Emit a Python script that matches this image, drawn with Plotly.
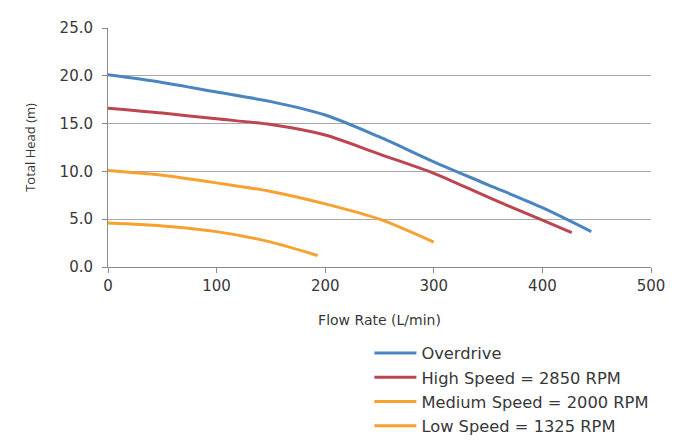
import plotly.graph_objects as go

# Data
overdrive_x = [0, 50, 100, 150, 200, 250, 300, 350, 400, 445]
overdrive_y = [20.1, 19.3, 18.3, 17.3, 15.9, 13.6, 11.0, 8.6, 6.2, 3.7]

high_x = [0, 50, 100, 150, 200, 250, 300, 350, 400, 427]
high_y = [16.6, 16.1, 15.5, 14.9, 13.8, 11.8, 9.8, 7.3, 4.9, 3.6]

medium_x = [0, 50, 100, 150, 200, 250, 300]
medium_y = [10.1, 9.6, 8.8, 7.9, 6.6, 5.0, 2.6]

low_x = [0, 50, 100, 150, 193]
low_y = [4.6, 4.3, 3.7, 2.6, 1.2]

series = [
    ("Overdrive", overdrive_x, overdrive_y, "#4a85c1"),
    ("High Speed = 2850 RPM", high_x, high_y, "#bb4650"),
    ("Medium Speed = 2000 RPM", medium_x, medium_y, "#f7a130"),
    ("Low Speed = 1325 RPM", low_x, low_y, "#f7a130"),
]

x_ticks = [0, 100, 200, 300, 400, 500]
y_ticks = [0, 5, 10, 15, 20, 25]

fig = go.Figure()
for i, (name, xs, ys, color) in enumerate(series):
    fig.add_trace(go.Scatter(
        x=xs, y=ys, name=name, mode="lines",
        line=dict(color=color, width=3, shape="spline", smoothing=0.8),
        legendgroup=f"g{i}",
    ))

wide = "DejaVu Sans, Verdana, sans-serif"
narrow = "Open Sans, Lato, sans-serif"
txt = "#383838"
fig.update_layout(
    width=689, height=441,
    margin=dict(l=100, r=46, t=20, b=182, autoexpand=False),
    paper_bgcolor="#ffffff",
    plot_bgcolor="#ffffff",
    font=dict(family=wide, size=13, color=txt),
    showlegend=True,
    legend=dict(
        xref="container", yref="container",
        x=0.5245, y=0.2562, xanchor="left", yanchor="top",
        font=dict(family=wide, size=16.3, color=txt),
        tracegroupgap=0,
        itemwidth=42,
        bgcolor="rgba(0,0,0,0)",
    ),
)
fig.update_xaxes(
    range=[0, 500], tickvals=x_ticks, ticktext=[str(v) for v in x_ticks],
    showgrid=False, zeroline=False, automargin=False,
    showline=True, linecolor="#8a8a8a", linewidth=1,
    ticks="outside", ticklen=5, tickcolor="#8a8a8a",
    tickfont=dict(family=wide, size=15, color=txt),
    title=dict(text="Flow Rate (L/min)", font=dict(family=wide, size=14, color=txt), standoff=21),
)
fig.update_yaxes(
    range=[0, 25], tickvals=y_ticks, ticktext=[f"{v:.1f}" for v in y_ticks],
    showgrid=True, gridcolor="#a8a8a8", gridwidth=1, zeroline=False, automargin=False,
    showline=True, linecolor="#8a8a8a", linewidth=1,
    ticks="outside", ticklen=5, tickcolor="#8a8a8a",
    ticklabelstandoff=6,
    tickfont=dict(family=wide, size=15, color=txt),
    title=dict(text="Total Head (m)", font=dict(family=narrow, size=13, color=txt), standoff=21),
)

fig.write_html("out.html")
